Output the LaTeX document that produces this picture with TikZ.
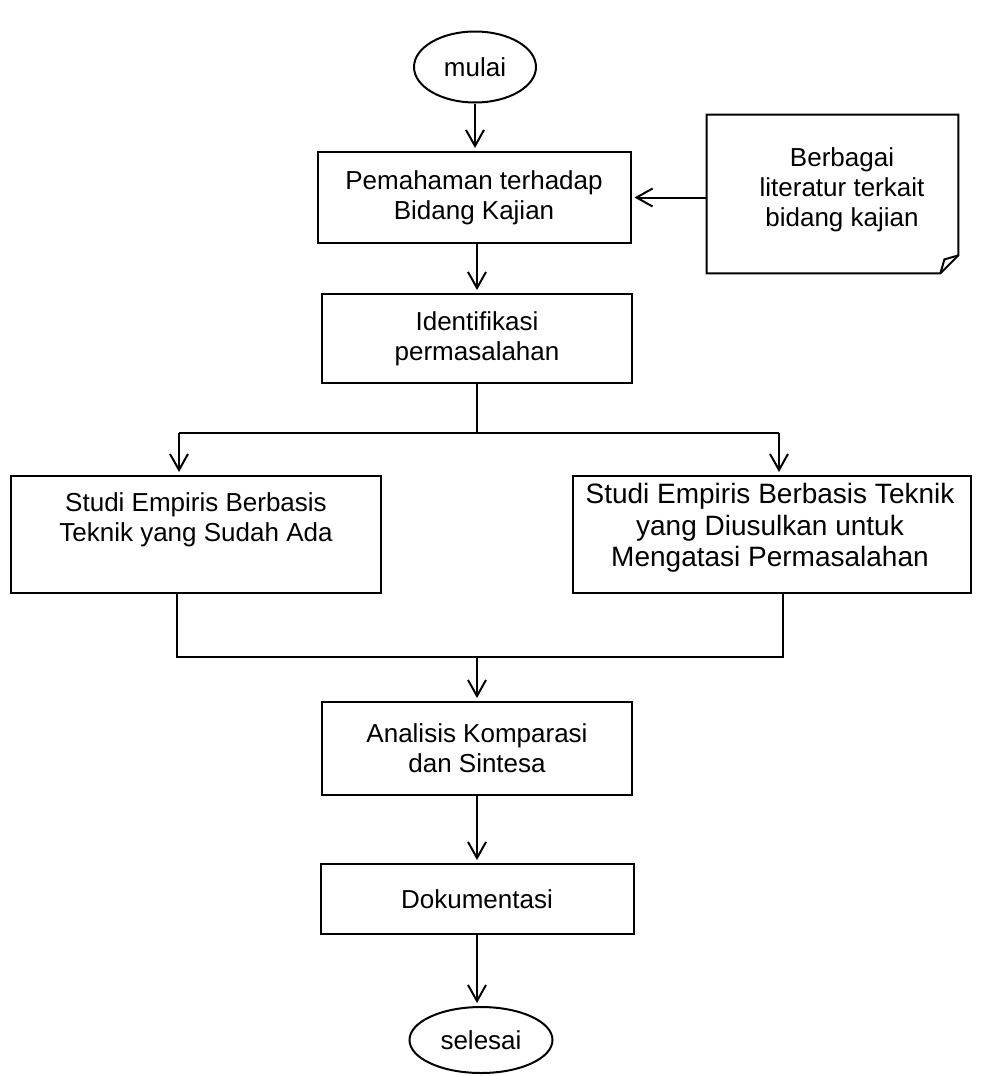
\documentclass[tikz,border=0pt]{standalone}
\usepackage{fontspec}
\setmainfont{Liberation Sans}
\usetikzlibrary{arrows.meta,shapes.geometric,calc}
\begin{document}
\begin{tikzpicture}[x=0.5pt,y=-0.5pt,
  font=\fontsize{13}{15}\selectfont,
  flow/.style={draw,line width=1pt,rectangle,align=center,inner sep=0pt},
  term/.style={draw,line width=1pt,ellipse,inner sep=0pt},
  txt/.style={align=center,inner sep=0pt},
  arr/.style={line width=1pt,-{Straight Barb[length=8pt,width=9pt,line width=1pt]},shorten >=1.5pt},
  link/.style={line width=1pt}]
\useasboundingbox (0,0) rectangle (996,1076);

% terminals
\node[term,minimum width=61pt,minimum height=35.5pt] (start) at (475,67) {mulai};
\node[term,minimum width=71.5pt,minimum height=33pt] (sel) at (481,1040) {selesai};

% process boxes
\node[flow,minimum width=156.5pt,minimum height=45.5pt] (pem) at (474,197.5) {Pemahaman terhadap\\Bidang Kajian};
\node[flow,minimum width=155pt,minimum height=44.5pt] (idf) at (477,338.5) {Identifikasi\\permasalahan};
\node[flow,minimum width=185pt,minimum height=58.5pt] (sL) at (196,534.5) {};
\node[txt] (sLt) at (196,520) {Studi Empiris Berbasis\\Teknik yang Sudah Ada};
\node[flow,minimum width=199pt,minimum height=58.5pt] (sR) at (772,534.5) {};
\node[txt,font=\fontsize{14}{15.8}\selectfont] (sRt) at (770,528) {Studi Empiris Berbasis Teknik\\yang Diusulkan untuk\\Mengatasi Permasalahan};
\node[flow,minimum width=155pt,minimum height=46.5pt] (anal) at (477,748.5) {Analisis Komparasi\\dan Sintesa};
\node[flow,minimum width=156.5pt,minimum height=35pt] (dok) at (477,899) {Dokumentasi};

% document with folded corner
\node[minimum width=125.5pt,minimum height=79pt,inner sep=0pt] (lit) at (832.5,194) {};
\draw[link] (lit.north west) -- (lit.north east) -- ($(lit.south east)+(0,-18)$)
  -- ($(lit.south east)+(-18,0)$) -- (lit.south west) -- cycle;
\draw[link] ($(lit.south east)+(-18,0)$) -- ($(lit.south east)+(-14,-14)$) -- ($(lit.south east)+(0,-18)$);
\node[txt] (litt) at (842,190) {Berbagai\\literatur terkait\\bidang kajian};

% connectors
\draw[arr] (start.south) -- (start.south |- pem.north);
\draw[arr] (lit.west |- pem.east) -- (pem.east);
\draw[arr] (pem.south -| idf.south) -- (idf.north);

\coordinate (split) at (477,433);
\coordinate (lin) at (179,433);
\coordinate (rin) at (779,433);
\draw[link] (idf.south) -- (split);
\draw[link] (lin) -- (rin);
\draw[arr] (lin) -- (lin |- sL.north);
\draw[arr] (rin) -- (rin |- sR.north);

\coordinate (lout) at (177,657);
\coordinate (rout) at (783,657);
\coordinate (join) at (477,657);
\draw[link] (lout |- sL.south) -- (lout) -- (rout) -- (rout |- sR.south);
\draw[arr] (join) -- (anal.north);
\draw[arr] (anal.south) -- (anal.south |- dok.north);
\draw[arr] (dok.south) -- (dok.south |- sel.north);
\end{tikzpicture}
\end{document}
